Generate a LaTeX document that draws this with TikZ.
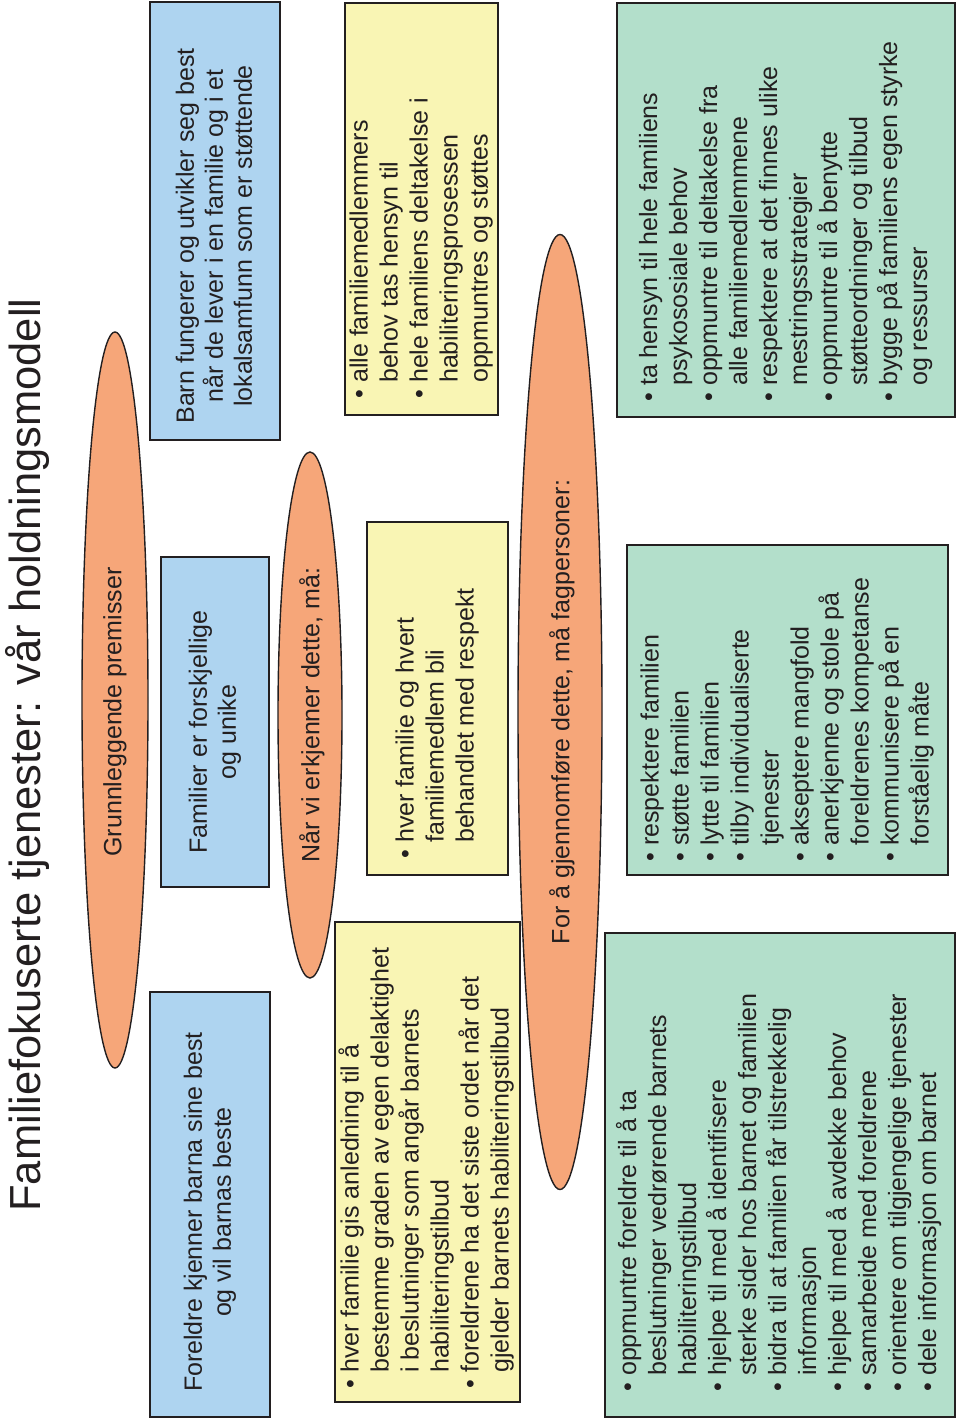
\documentclass[tikz,border=0pt]{standalone}
\usepackage{fontspec}
\setmainfont{Liberation Sans}
\usetikzlibrary{shapes.geometric}
\definecolor{ink}{HTML}{231F20}
\definecolor{orng}{HTML}{F6A679}
\definecolor{blu}{HTML}{AED4F0}
\definecolor{yel}{HTML}{F9F5B4}
\definecolor{grn}{HTML}{B3DFCB}
\newcommand\bu{\strut\makebox[16pt][l]{•}}
\newcommand\co{\strut\hspace*{16pt}}
\begin{document}
\begin{tikzpicture}[x=1pt,y=-1pt,
  boxs/.style={draw=ink, line width=1.5pt, inner sep=0pt, outer sep=0pt, anchor=north west},
  ell/.style={ellipse, draw=ink, line width=1.4pt, fill=orng, inner sep=0pt},
  btxt/.style={rotate=90, align=left, anchor=west, inner sep=0pt, text=ink, font=\fontsize{25}{30}\selectfont},
  ctxt/.style={rotate=90, align=center, inner sep=0pt, text=ink, font=\fontsize{25}{29}\selectfont}]
\useasboundingbox (0,0) rectangle (960,1424);

% title
\node[rotate=90, anchor=base, inner sep=0pt, text=ink, font=\fontsize{43.5}{50}\selectfont] (title) at (40,755) {Familiefokuserte tjenester: vår holdningsmodell};

% ellipses
\node[ell, minimum width=66pt, minimum height=736pt] (e1) at (115,700) {};
\node[ell, minimum width=64pt, minimum height=526pt] (e2) at (310,715) {};
\node[ell, minimum width=84pt, minimum height=955pt] (e3) at (560,712) {};
\node[ctxt] (et1) at (115,712) {Grunnleggende premisser};
\node[ctxt] (et2) at (312,715) {Når vi erkjenner dette, må:};
\node[ctxt] (et3) at (562,712) {For å gjennomføre dette, må fagpersoner:};

% blue boxes
\node[boxs, fill=blu, minimum width=130pt, minimum height=438pt] (b1) at (150,2) {};
\node[boxs, fill=blu, minimum width=108pt, minimum height=330pt] (b2) at (161,557) {};
\node[boxs, fill=blu, minimum width=120pt, minimum height=425pt] (b3) at (150,992) {};
\node[ctxt] (bt1) at (214,236) {Barn fungerer og utvikler seg best\\når de lever i en familie og i et\\lokalsamfunn som er støttende};
\node[ctxt] (bt2) at (215,732) {Familier er forskjellige\\og unike};
\node[ctxt] (bt3) at (210,1212) {Foreldre kjenner barna sine best\\og vil barnas beste};

% yellow boxes
\node[boxs, fill=yel, minimum width=153pt, minimum height=412pt] (y1) at (345,3) {};
\node[boxs, fill=yel, minimum width=141pt, minimum height=353pt] (y2) at (367,522) {};
\node[boxs, fill=yel, minimum width=185pt, minimum height=480pt] (y3) at (335,922) {};
\node[btxt] (yt1) at (421.5,399) {\bu alle familiemedlemmers\\
\co behov tas hensyn til\\
\bu hele familiens deltakelse i\\
\co habiliteringsprosessen\\
\co oppmuntres og støttes};
\node[btxt] (yt2) at (437.5,859) {\bu hver familie og hvert\\
\co familiemedlem bli\\
\co behandlet med respekt};
\node[btxt] (yt3) at (427.5,1389) {\bu hver familie gis anledning til å\\
\co bestemme graden av egen delaktighet\\
\co i beslutninger som angår barnets\\
\co habiliteringstilbud\\
\bu foreldrene ha det siste ordet når det\\
\co gjelder barnets habiliteringstilbud};

% green boxes
\node[boxs, fill=grn, minimum width=338pt, minimum height=414pt] (g1) at (617,3) {};
\node[boxs, fill=grn, minimum width=321pt, minimum height=330pt] (g2) at (627,545) {};
\node[boxs, fill=grn, minimum width=350pt, minimum height=484pt] (g3) at (605,933) {};
\node[btxt] (gt1) at (786,402) {\bu ta hensyn til hele familiens\\
\co psykososiale behov\\
\bu oppmuntre til deltakelse fra\\
\co alle familiemedlemmene\\
\bu respektere at det finnes ulike\\
\co mestringsstrategier\\
\bu oppmuntre til å benytte\\
\co støtteordninger og tilbud\\
\bu bygge på familiens egen styrke\\
\co og ressurser};
\node[btxt] (gt2) at (787.5,862) {\bu respektere familien\\
\bu støtte familien\\
\bu lytte til familien\\
\bu tilby individualiserte\\
\co tjenester\\
\bu akseptere mangfold\\
\bu anerkjenne og stole på\\
\co foreldrenes kompetanse\\
\bu kommunisere på en\\
\co forståelig måte};
\node[btxt] (gt3) at (780,1392) {\bu oppmuntre foreldre til å ta\\
\co beslutninger vedrørende barnets\\
\co habiliteringstilbud\\
\bu hjelpe til med å identifisere\\
\co sterke sider hos barnet og familien\\
\bu bidra til at familien får tilstrekkelig\\
\co informasjon\\
\bu hjelpe til med å avdekke behov\\
\bu samarbeide med foreldrene\\
\bu orientere om tilgjengelige tjenester\\
\bu dele informasjon om barnet};
\end{tikzpicture}
\end{document}
